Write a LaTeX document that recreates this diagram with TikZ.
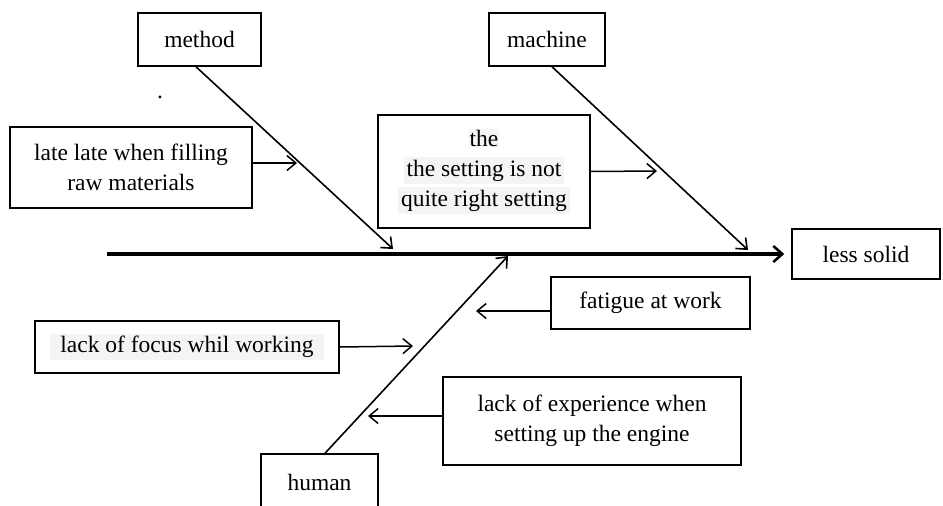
\documentclass[tikz,border=0pt]{standalone}
\usepackage{fontspec}
\setmainfont{Liberation Serif}
\usetikzlibrary{arrows.meta}
\definecolor{hl}{RGB}{244,244,244}
\begin{document}
\begin{tikzpicture}[x=1pt,y=-1pt,
  box/.style={draw, line width=1.5pt, inner sep=0pt, align=center,
    font=\fontsize{23.5}{30}\selectfont},
  spine/.style={line width=3.2pt, shorten >=7pt,
    -{Straight Barb[length=9pt,width=16pt,line width=2.6pt]}},
  branch/.style={line width=1.6pt,
    -{Straight Barb[length=9pt,width=15pt,line width=1.6pt]}},
  cause/.style={line width=1.5pt,
    -{Straight Barb[length=9pt,width=15pt,line width=1.5pt]}}
]
\useasboundingbox (0,0) rectangle (943,506);

% category and effect boxes
\node[box, minimum width=123pt, minimum height=53pt] (method) at (199.5,39.5) {method};
\node[box, minimum width=116pt, minimum height=53pt] (machine) at (547,39.5) {machine};
\node[box, minimum width=117pt, minimum height=56pt] (human) at (319.5,482) {human};
\node[box, minimum width=148pt, minimum height=50pt] (effect) at (866,254) {less solid};

% cause boxes
\node[box, minimum width=242pt, minimum height=81pt] (late) at (131,167.5)
  {late late when filling\\raw materials};
\node[box, minimum width=212pt, minimum height=113pt] (setting) at (484,171.5)
  {\setlength\fboxsep{1pt}\colorbox{hl}{the}\\\colorbox{hl}{the setting is not}\\\colorbox{hl}{quite right setting}};
\node[box, minimum width=199pt, minimum height=52pt] (fatigue) at (650.5,303) {fatigue at work};
\node[box, minimum width=304pt, minimum height=52pt] (focus) at (187,347)
  {\setlength\fboxsep{2pt}\colorbox{hl}{\hspace{8pt}lack of focus whil working\hspace{8pt}}};
\node[box, minimum width=298pt, minimum height=88pt] (exper) at (592,421)
  {lack of experience when\\setting up the engine};

% stray dot
\node[font=\fontsize{23.5}{30}\selectfont, inner sep=0pt] (dot) at (160,97) {.};

% spine
\coordinate (tail) at (107,254);
\draw[spine] (tail) -- (effect.west);

% branch heads
\coordinate (mh) at (393,249);
\coordinate (mch) at (748,250);
\coordinate (hh) at (508,256);
\draw[branch] ([xshift=-3.5pt]method.south) -- (mh);
\draw[branch] ([xshift=5pt]machine.south) -- (mch);
\draw[branch] ([xshift=5.5pt]human.north) -- (hh);

% cause arrows
\coordinate (c1) at (297,163);
\coordinate (c2) at (657,171);
\coordinate (c3) at (413,346);
\coordinate (c4) at (476,311);
\coordinate (c5) at (368,416);
\draw[cause] ([yshift=4.5pt]late.east) -- (c1);
\draw[cause] (setting.east) -- (c2);
\draw[cause] (focus.east) -- (c3);
\draw[cause] ([yshift=-8pt]fatigue.west) -- (c4);
\draw[cause] ([yshift=5pt]exper.west) -- (c5);
\end{tikzpicture}
\end{document}
